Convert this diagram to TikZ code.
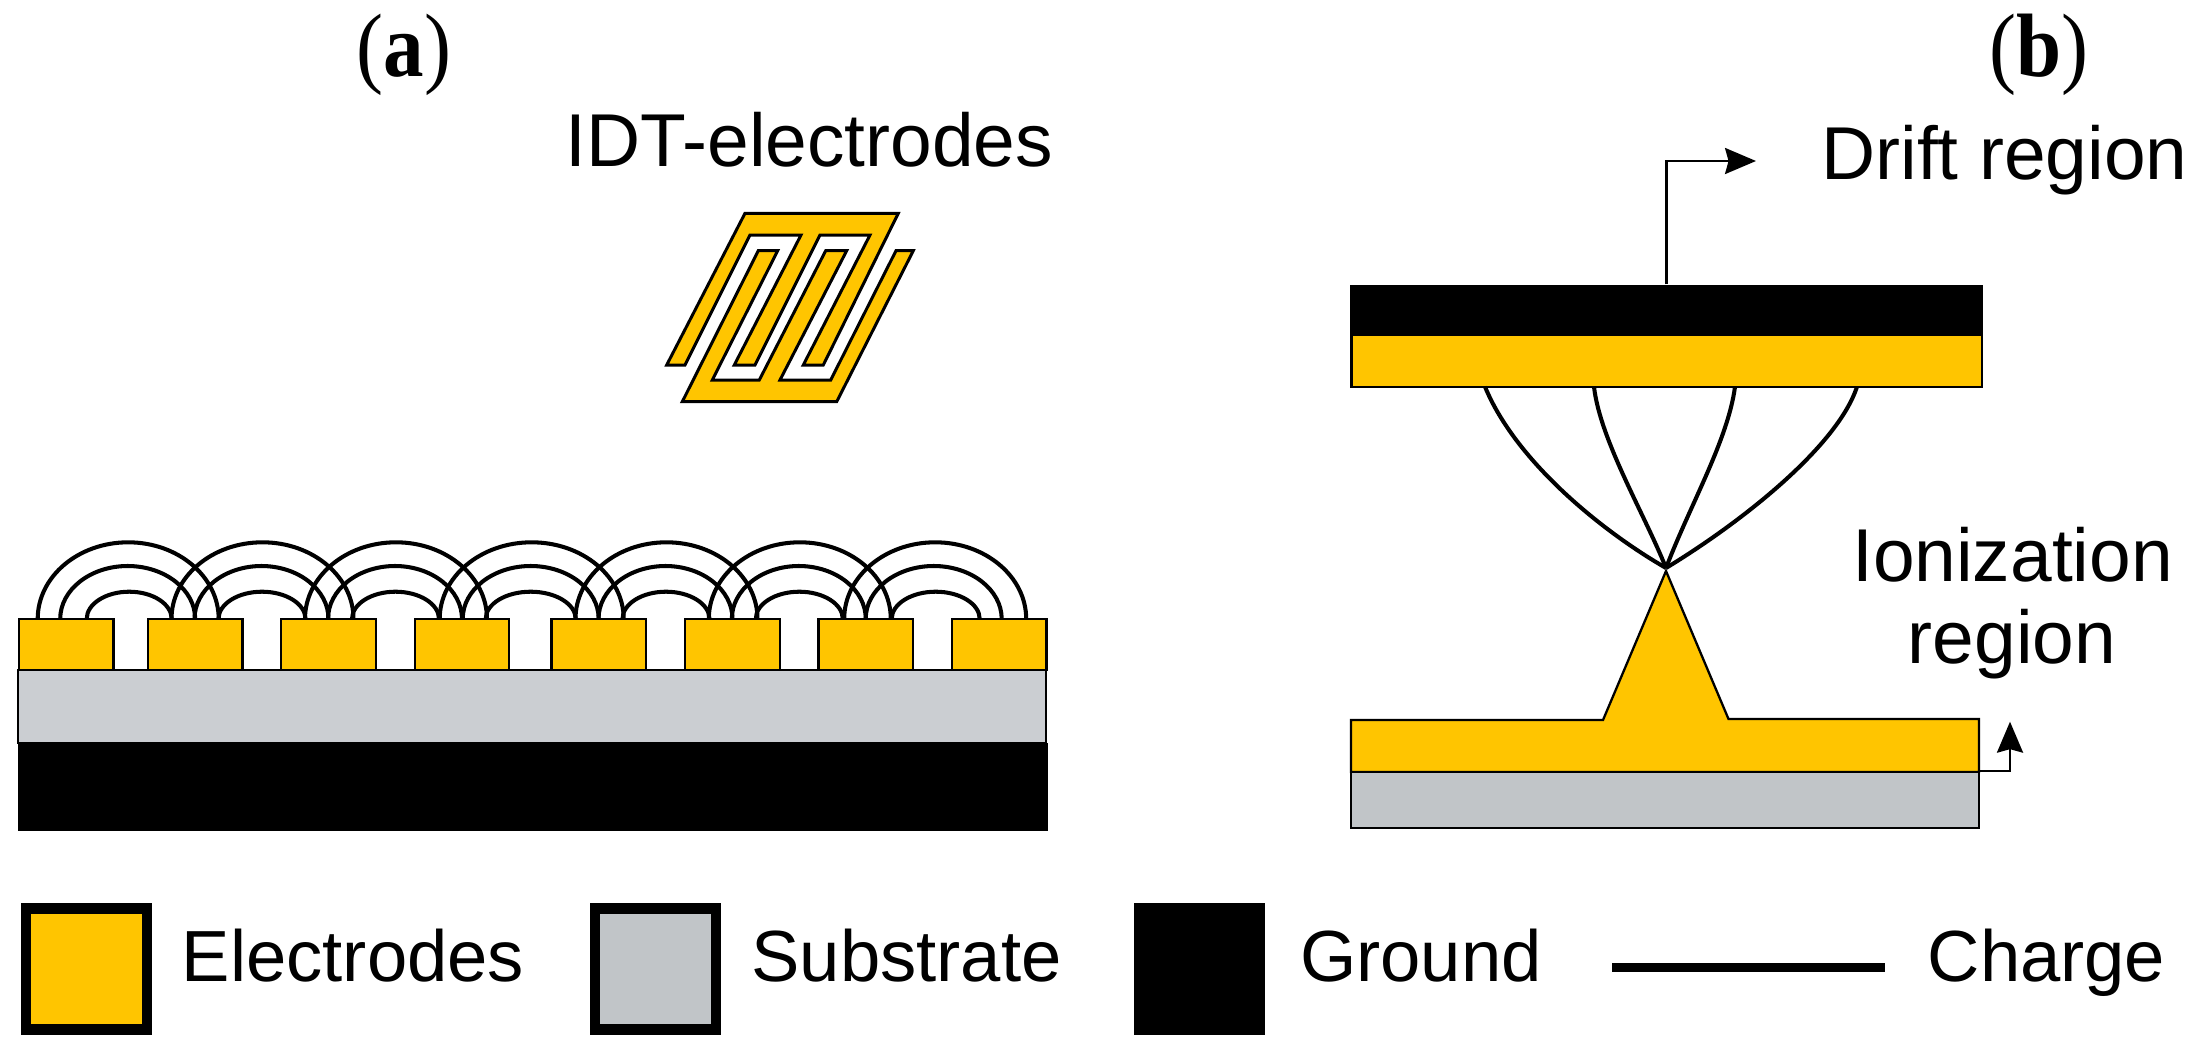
\documentclass[tikz,border=0pt]{standalone}
\usepackage{fontspec}
\setmainfont{Liberation Sans}
\newfontfamily\panelfont[FakeStretch=0.9]{Liberation Serif}
\usetikzlibrary{arrows.meta}
\definecolor{electrodeyellow}{HTML}{FFC500}
\definecolor{substrategrey}{HTML}{CBCED2}
\definecolor{substratedark}{HTML}{C1C5C8}
\begin{document}
\begin{tikzpicture}[x=0.01cm,y=0.01cm,
			electrodebox/.style={rectangle, draw=black, fill=electrodeyellow, line width=0.65pt, inner sep=0pt, minimum width=0.945cm, minimum height=0.51cm},
			layerbox/.style={rectangle, draw=black, line width=0.65pt, inner sep=0pt},
			groundbox/.style={rectangle, fill=black, inner sep=0pt},
			legendbox/.style={rectangle, draw=black, line width=3pt, inner sep=0pt, minimum width=1.205cm, minimum height=1.21cm},
			chargeline/.style={black, line width=1.15pt},
			wirearrow/.style={black, line width=0.7pt, -{Stealth[length=8.8pt,width=7.4pt,inset=1pt]}},
			bigtext/.style={anchor=base, inner sep=0pt, font=\fontsize{21.3pt}{24pt}\selectfont},
			legendtext/.style={anchor=base, inner sep=0pt, font=\fontsize{20.6pt}{24pt}\selectfont},
			paneltext/.style={anchor=base, inner sep=0pt, font=\fontsize{25.6pt}{30pt}\panelfont},
			]
\useasboundingbox (0,0) rectangle (2196,-1048);

\node[paneltext] (panela) at (404,-76) {(\textbf{a})};
\node[paneltext] (panelb) at (2039,-76) {(\textbf{b})};
\node[bigtext] (idtlabel) at (809.5,-166) {IDT-electrodes};

\draw[draw=black, fill=electrodeyellow, line width=0.85pt] (745,-213.3) -- (898.3,-213.3) -- (823.3,-365) -- (803.3,-365) -- (870,-235) -- (820,-235) -- (755,-365) -- (734.3,-365) -- (801,-235) -- (750,-235) -- (685,-365) -- (666.7,-365) -- cycle;
\draw[draw=black, fill=electrodeyellow, line width=0.85pt] (682.3,-401.7) -- (758.3,-250.7) -- (777.7,-250.7) -- (712.3,-380) -- (759.3,-380) -- (825.7,-250.7) -- (846.7,-250.7) -- (780,-380) -- (830.7,-380) -- (896,-250.7) -- (913.3,-250.7) -- (836.7,-401.7) -- cycle;

\node[groundbox, minimum width=10.295cm, minimum height=0.88cm] (groundA) at (532.7,-787) {};
\node[layerbox, fill=substrategrey, minimum width=10.274cm, minimum height=0.73cm] (substrateA) at (532.3,-706.5) {};
\node[electrodebox] (el1) at (66.1,-644.5) {};
\node[electrodebox] (el2) at (195.2,-644.5) {};
\node[electrodebox] (el3) at (328.5,-644.5) {};
\node[electrodebox] (el4) at (462.0,-644.5) {};
\node[electrodebox] (el5) at (598.7,-644.5) {};
\node[electrodebox] (el6) at (732.5,-644.5) {};
\node[electrodebox] (el7) at (865.8,-644.5) {};
\node[electrodebox] (el8) at (999.2,-644.5) {};
\draw[chargeline] (el2)+(23.5,25.5) arc (0:180:90.5 and 76.7);
\draw[chargeline] (el2)+(0,25.5) arc (0:180:67.5 and 53);
\draw[chargeline] (el2)+(-23.5,25.5) arc (0:180:42.5 and 27.3);
\draw[chargeline] (el3)+(25,25.5) arc (0:180:91 and 76.7);
\draw[chargeline] (el3)+(0,25.5) arc (0:180:67 and 53);
\draw[chargeline] (el3)+(-23,25.5) arc (0:180:43.5 and 27.3);
\draw[chargeline] (el4)+(25,25.5) arc (0:180:91 and 76.7);
\draw[chargeline] (el4)+(0,25.5) arc (0:180:67 and 53);
\draw[chargeline] (el4)+(-23,25.5) arc (0:180:43.5 and 27.3);
\draw[chargeline] (el5)+(25,25.5) arc (0:180:92 and 76.7);
\draw[chargeline] (el5)+(0,25.5) arc (0:180:68 and 53);
\draw[chargeline] (el5)+(-23,25.5) arc (0:180:45 and 27.3);
\draw[chargeline] (el6)+(25,25.5) arc (0:180:91 and 76.7);
\draw[chargeline] (el6)+(0,25.5) arc (0:180:67 and 53);
\draw[chargeline] (el6)+(-23,25.5) arc (0:180:43.5 and 27.3);
\draw[chargeline] (el7)+(25,25.5) arc (0:180:91 and 76.7);
\draw[chargeline] (el7)+(0,25.5) arc (0:180:67 and 53);
\draw[chargeline] (el7)+(-23,25.5) arc (0:180:43.5 and 27.3);
\draw[chargeline] (el8)+(27,25.5) arc (0:180:91 and 76.7);
\draw[chargeline] (el8)+(2.5,25.5) arc (0:180:68 and 53);
\draw[chargeline] (el8)+(-19.5,25.5) arc (0:180:44 and 27.3);

\node[bigtext] (driftlabel) at (2004.5,-179) {Drift region};
\node[groundbox, minimum width=6.325cm, minimum height=0.5cm] (groundB) at (1666.7,-310) {};
\node[layerbox, fill=electrodeyellow, minimum width=6.305cm, minimum height=0.517cm] (topelectrode) at (1666.8,-361) {};
\coordinate (driftend) at (1756,-161);
\draw[wirearrow] (groundB.north) |- (driftend);

\coordinate (q1) at (1485,-386.7);
\coordinate (q2) at (1594,-386.7);
\coordinate (q3) at (1735,-386.7);
\coordinate (q4) at (1857,-386.7);
\coordinate (tip) at (1666,-568);
\draw[chargeline] (q1) .. controls (1515,-460) and (1600,-530) .. (tip);
\draw[chargeline] (q2) .. controls (1600,-440) and (1645,-515) .. (tip);
\draw[chargeline] (q3) .. controls (1728,-440) and (1690,-505) .. (tip);
\draw[chargeline] (q4) .. controls (1838,-445) and (1745,-520) .. (tip);

\node[bigtext] (ionlabel) at (2012.5,-581.7) {Ionization};
\node[bigtext] (reglabel) at (2012,-663) {region};
\draw[draw=black, fill=electrodeyellow, line width=0.65pt] (1351,-772) -- (1351,-720) -- (1603,-720) -- (1666,-571) -- (1728.5,-719) -- (1979,-719) -- (1979,-772) -- cycle;
\node[layerbox, fill=substratedark, minimum width=6.28cm, minimum height=0.557cm] (substrateB) at (1665,-799.85) {};
\coordinate (ionend) at (2010,-721.7);
\draw[wirearrow] (substrateB.north east) -| (ionend);

\node[legendbox, fill=electrodeyellow] (legend1) at (86.5,-969) {};
\node[legendtext] (legendtext1) at (353,-981) {Electrodes};
\node[legendbox, fill=substratedark] (legend2) at (655.5,-969) {};
\node[legendtext] (legendtext2) at (906.5,-981) {Substrate};
\node[groundbox, minimum width=1.31cm, minimum height=1.32cm] (legend3) at (1199.5,-969) {};
\node[legendtext] (legendtext3) at (1421,-981) {Ground};
\coordinate (legendA) at (1612,-967.5);
\coordinate (legendB) at (1885,-967.5);
\draw[black, line width=2.55pt] (legendA) -- (legendB);
\node[legendtext] (legendtext4) at (2046.5,-981) {Charge};

\end{tikzpicture}
\end{document}
